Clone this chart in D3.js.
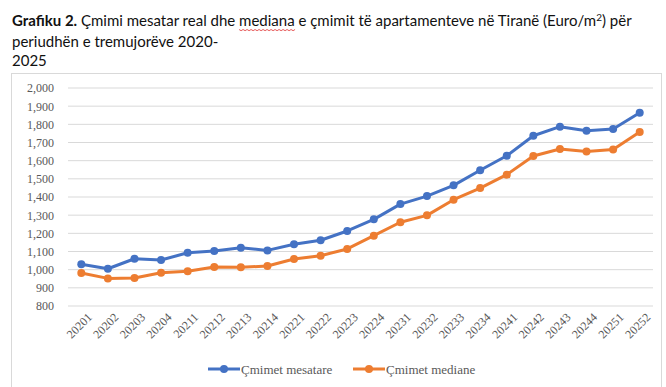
<!DOCTYPE html>
<html>
<head>
<meta charset="utf-8">
<script src="https://cdn.jsdelivr.net/npm/d3@7"></script>
<style>
  body { margin: 0; background: #fff; }
  svg { display: block; }
  .serif { font-family: "Liberation Serif", "DejaVu Serif", "Times New Roman", serif; }
</style>
</head>
<body>
<svg id="chart"></svg>
<script>
var periods = ["20201","20202","20203","20204","20211","20212","20213","20214",
  "20221","20222","20223","20224","20231","20232","20233","20234",
  "20241","20242","20243","20244","20251","20252"];

var mesatare = [1030,1005,1060,1053,1093,1103,1121,1106,1140,1162,1213,1277,
  1361,1405,1464,1547,1627,1737,1787,1765,1774,1864];

var mediane = [982,952,954,983,991,1015,1013,1020,1059,1077,1114,1187,
  1261,1299,1385,1449,1523,1626,1664,1651,1662,1758];

var yTicks = [800,900,1000,1100,1200,1300,1400,1500,1600,1700,1800,1900,2000];

var series = [
  {name: "Çmimet mesatare", values: mesatare, color: "#4472C4"},
  {name: "Çmimet mediane", values: mediane, color: "#ED7D31"}
];

var width = 666, height = 387;

var svg = d3.select("#chart")
  .attr("width", width)
  .attr("height", height);

// title
var title = svg.append("g")
  .style("font-family", "Lato, 'Open Sans', sans-serif")
  .style("font-size", "15px")
  .attr("fill", "#111");

var line1 = title.append("text").attr("x", 12).attr("y", 26);
line1.append("tspan").attr("font-weight", "bold").text("Grafiku 2.");
line1.append("tspan").text(" Çmimi mesatar real dhe mediana e çmimit të apartamenteve në Tiranë (Euro/m");
line1.append("tspan").attr("font-size", "10px").attr("dy", -5).text("2");
line1.append("tspan").attr("dy", 5).text(") për");

title.append("text").attr("x", 12).attr("y", 47).text("periudhën e tremujorëve 2020-");
title.append("text").attr("x", 12).attr("y", 66).text("2025");

// red spell-check squiggle under "mediana"
(function() {
  var node = line1.node();
  var full = "Grafiku 2. Çmimi mesatar real dhe mediana";
  var idx = full.indexOf("mediana");
  var x0 = 12 + node.getSubStringLength(0, idx);
  var w = node.getSubStringLength(idx, 7);
  var pts = [];
  for (var i = 0; i <= Math.round(w / 2); i++) pts.push([x0 + i * 2, 29.5 + (i % 2 ? 1.2 : 0)]);
  svg.append("path")
    .attr("d", d3.line()(pts))
    .attr("fill", "none")
    .attr("stroke", "#e03030")
    .attr("stroke-width", 0.8);
})();

// chart frame
svg.append("rect")
  .attr("x", 11.5).attr("y", 73.5)
  .attr("width", 650).attr("height", 320)
  .attr("fill", "#fff")
  .attr("stroke", "#d9d9d9");

var x = d3.scalePoint()
  .domain(periods)
  .range([68, 653])
  .padding(0.5);

var y = d3.scaleLinear()
  .domain([800, 2000])
  .range([306, 88]);

// gridlines
svg.append("g")
  .selectAll("line")
  .data(yTicks)
  .join("line")
  .attr("x1", 68).attr("x2", 653)
  .attr("y1", function(d) { return y(d); })
  .attr("y2", function(d) { return y(d); })
  .attr("stroke", "#d9d9d9")
  .attr("stroke-width", 1);

// y axis labels
var yAxis = svg.append("g")
  .attr("transform", "translate(56,0)")
  .call(d3.axisLeft(y).tickValues(yTicks).tickSize(0).tickPadding(2).tickFormat(d3.format(",")))
  .attr("font-family", null)
  .attr("font-size", null);
yAxis.select(".domain").remove();
yAxis.selectAll("text")
  .attr("class", "serif")
  .style("font-size", "12px")
  .attr("fill", "#595959");

// x axis labels
var xAxis = svg.append("g")
  .attr("transform", "translate(0,312)")
  .call(d3.axisBottom(x).tickSize(0).tickPadding(0))
  .attr("font-family", null)
  .attr("font-size", null);
xAxis.select(".domain").remove();
xAxis.selectAll("text")
  .attr("class", "serif")
  .style("font-size", "12px")
  .attr("fill", "#595959")
  .attr("text-anchor", "end")
  .attr("dy", "0.7em")
  .attr("transform", "translate(5,0) rotate(-45)");

// lines
var line = d3.line()
  .x(function(d, i) { return x(periods[i]); })
  .y(function(d) { return y(d); });

series.forEach(function(s) {
  svg.append("path")
    .datum(s.values)
    .attr("d", line)
    .attr("fill", "none")
    .attr("stroke", s.color)
    .attr("stroke-width", 3)
    .attr("stroke-linejoin", "round");

  svg.append("g")
    .selectAll("circle")
    .data(s.values)
    .join("circle")
    .attr("cx", function(d, i) { return x(periods[i]); })
    .attr("cy", function(d) { return y(d); })
    .attr("r", 4)
    .attr("fill", s.color);
});

// legend
var legend = svg.append("g")
  .attr("class", "serif")
  .style("font-size", "13px");

var legendX = [208, 353];
series.forEach(function(s, i) {
  var g = legend.append("g").attr("transform", "translate(" + legendX[i] + ",369)");
  g.append("line").attr("x1", 0).attr("x2", 32).attr("stroke", s.color).attr("stroke-width", 3);
  g.append("circle").attr("cx", 16).attr("r", 4).attr("fill", s.color);
  g.append("text").attr("x", 33).attr("dy", "0.35em").attr("fill", "#595959").text(s.name);
});
</script>
</body>
</html>
